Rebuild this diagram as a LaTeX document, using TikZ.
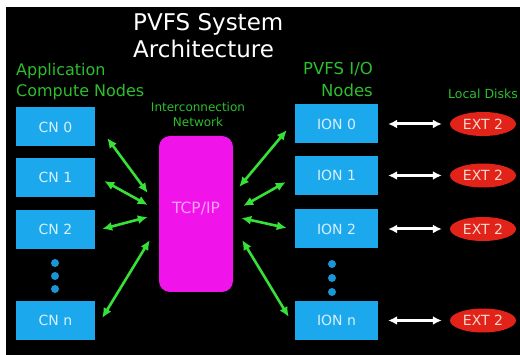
\documentclass[tikz,border=0pt]{standalone}
\usepackage{fontspec}
\setmainfont{DejaVu Sans}
\usetikzlibrary{arrows.meta,calc,shapes.geometric}

\definecolor{bgblack}{RGB}{0,0,0}
\definecolor{boxblue}{RGB}{28,168,236}
\definecolor{dotblue}{RGB}{26,150,215}
\definecolor{netpink}{RGB}{240,20,235}
\definecolor{diskred}{RGB}{225,35,25}
\definecolor{labelgreen}{RGB}{45,190,45}
\definecolor{linkgreen}{RGB}{55,225,55}
\definecolor{boxtext}{RGB}{215,240,255}
\definecolor{nettext}{RGB}{255,160,250}
\definecolor{disktext}{RGB}{255,215,205}

\tikzset{
  fsz/.style={font=\fontsize{#1}{#1}\selectfont},
  nodebox/.style={fill=boxblue, draw=none, minimum height=39pt,
    inner sep=0pt, text=boxtext, fsz=14},
  cnbox/.style={nodebox, minimum width=79pt},
  ionbox/.style={nodebox, minimum width=83pt},
  disk/.style={ellipse, fill=diskred, draw=none, minimum width=66pt,
    minimum height=24pt, inner sep=0pt, text=disktext, fsz=14},
  greenlabel/.style={text=labelgreen, inner sep=0pt},
  link/.style={draw=linkgreen, line width=2.6pt,
    {Latex[length=10pt,width=9pt]}-{Latex[length=10pt,width=9pt]}},
  disklink/.style={draw=white, line width=3pt,
    {Latex[length=9pt,width=9pt]}-{Latex[length=9pt,width=9pt]},
    shorten <=10pt, shorten >=8pt},
  bluedot/.style={circle, fill=dotblue, minimum size=8pt, inner sep=0pt},
}

\begin{document}
\begin{tikzpicture}[x=1pt,y=-1pt]
  % page and black panel
  \useasboundingbox (0,0) rectangle (520,355);
  \fill[white] (0,0) rectangle (520,355);
  \fill[bgblack] (6,7) rectangle (520,355);

  % title (base anchor sits on the last line)
  \node[anchor=base west, inner sep=0pt, text=white, align=left,
        font=\fontsize{23}{27}\selectfont] (title) at (133,58)
        {PVFS System\\Architecture};

  % column headings
  \node[greenlabel, anchor=base west, align=left,
        font=\fontsize{16}{21}\selectfont] (apphead) at (16,97)
        {Application\\Compute Nodes};
  \node[greenlabel, anchor=base east, align=right,
        font=\fontsize{16.5}{22}\selectfont] (iohead) at (373,97)
        {PVFS I/O\\Nodes};
  \node[greenlabel, anchor=base, align=center,
        font=\fontsize{12}{15}\selectfont] (nethead) at (198,127)
        {Interconnection\\Network};
  \node[greenlabel, anchor=base, fsz=12.5] (diskhead) at (483,99)
        {Local Disks};

  % compute nodes
  \node[cnbox] (cn0) at (55.5,127)   {CN 0};
  \node[cnbox] (cn1) at (55.5,177.5) {CN 1};
  \node[cnbox] (cn2) at (55.5,229.5) {CN 2};
  \node[cnbox] (cnn) at (55.5,320.5) {CN n};
  \node[bluedot] (cd1) at (55,263) {};
  \node[bluedot] (cd2) at (55,276) {};
  \node[bluedot] (cd3) at (55,289) {};

  % interconnection network
  \node[fill=netpink, draw=none, rounded corners=11pt, minimum width=74pt,
        minimum height=156pt, inner sep=0pt] (tcp) at (196,214) {};
  \node[text=nettext, fsz=15.5, inner sep=0pt] (tcplabel) at (196,208) {TCP/IP};

  % I/O nodes
  \node[ionbox] (ion0) at (336.5,124)   {ION 0};
  \node[ionbox] (ion1) at (336.5,175.5) {ION 1};
  \node[ionbox] (ion2) at (336.5,229)   {ION 2};
  \node[ionbox] (ionn) at (336.5,320.5) {ION n};
  \node[bluedot] (id1) at (332,264) {};
  \node[bluedot] (id2) at (332,278) {};
  \node[bluedot] (id3) at (332,292) {};

  % local disks
  \node[disk] (ext0) at (483,124)   {EXT 2};
  \node[disk] (ext1) at (483,175.5) {EXT 2};
  \node[disk] (ext2) at (483,229)   {EXT 2};
  \node[disk] (extn) at (483,320.5) {EXT 2};

  % compute nodes <-> network
  \draw[link] ($(cn0.east)+(12,11)$) -- ($(tcp.west)+(-11,-21)$);
  \draw[link] ($(cn1.east)+(9,3.5)$) -- ($(tcp.west)+(-11,-9)$);
  \draw[link] ($(cn2.east)+(7,-0.5)$) -- ($(tcp.west)+(-11,3)$);
  \draw[link] ($(cnn.east)+(7,-2.5)$) -- ($(tcp.west)+(-9,26)$);

  % network <-> I/O nodes
  \draw[link] ($(tcp.east)+(6,-27)$) -- ($(ion0.west)+(-8,6)$);
  \draw[link] ($(tcp.east)+(10,-8)$) -- ($(ion1.west)+(-9,6.5)$);
  \draw[link] ($(tcp.east)+(8,4)$) -- ($(ion2.west)+(-8,-1)$);
  \draw[link] ($(tcp.east)+(9,26)$) -- ($(ionn.west)+(-6,-3.5)$);

  % I/O nodes <-> local disks
  \draw[disklink] (ion0) -- (ext0);
  \draw[disklink] (ion1) -- (ext1);
  \draw[disklink] (ion2) -- (ext2);
  \draw[disklink] (ionn) -- (extn);
\end{tikzpicture}
\end{document}
